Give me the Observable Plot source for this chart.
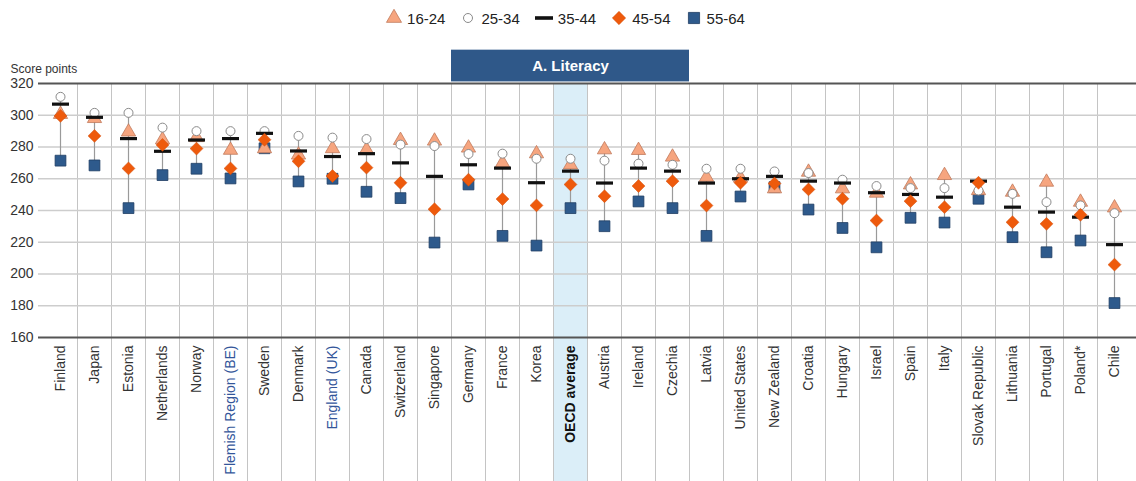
<!DOCTYPE html>
<html>
<head>
<meta charset="utf-8">
<script src="https://cdn.jsdelivr.net/npm/d3@7"></script>
<script src="https://cdn.jsdelivr.net/npm/@observablehq/plot@0.6"></script>
<style>
  body { margin: 0; background: #fff; font-family: "Liberation Sans", Arial, sans-serif; }
  #legend { height: 40px; display: flex; justify-content: center; align-items: flex-start; padding-right: 6px; box-sizing: border-box; }
  .item { display: flex; align-items: center; margin: 0 7px; height: 36px; font-size: 15px; color: #222; }
  .item svg { margin-right: 4px; }
</style>
</head>
<body>
<div id="legend"></div>
<div id="chart"></div>
<script>
const countries = ["Finland","Japan","Estonia","Netherlands","Norway","Flemish Region (BE)","Sweden","Denmark","England (UK)","Canada","Switzerland","Singapore","Germany","France","Korea","OECD average","Austria","Ireland","Czechia","Latvia","United States","New Zealand","Croatia","Hungary","Israel","Spain","Italy","Slovak Republic","Lithuania","Portugal","Poland*","Chile"];
const age1624 = [300.6,298,289.5,284.6,286,278,279,275,279,278.3,284.2,283.8,279.4,270,275.8,268.8,278.3,277.9,273.7,261,260.5,253.7,264.2,253.7,251,256.2,262.1,252.6,251.6,257.9,245.3,241.7];
const age2534 = [311.6,301.5,301.5,292.2,290,290,290,287,285.9,285,281.5,280.6,275.6,275.8,272.6,272.6,271.4,269.5,268.8,266.3,266.3,264.6,263.6,259.4,255.4,254.1,254.1,252.6,250.5,245.3,243.2,238.3];
const age3544 = [307,298.7,285.3,277.3,284.4,285.3,288.6,277.5,274,275.8,270,261.5,268.8,266.7,257.5,264.8,257.3,266.7,264.8,257.3,260,261.5,258.5,257.3,251.2,250.1,248.4,258.5,242.1,239,235.8,218.5];
const age4554 = [299.6,287,266.5,281.3,279,266.5,284.6,271,261.7,267,257.5,240.8,259.4,247.2,243.2,256.4,249,255.4,258.5,243.1,257.5,257,253.3,247.4,233.7,245.9,242.1,257.5,232.6,231.6,237.3,205.9];
const age5564 = [271.4,268.4,241.5,262.3,266.3,260.2,279.2,258.3,260,251.8,247.8,219.8,256.4,224,217.9,241.5,230.1,245.7,241.5,224,248.8,254.7,240.6,229,216.8,235.4,232.4,247.4,223.2,213.7,221.1,181.7];
const ageGroups = ["16-24","25-34","35-44","45-54","55-64"];
const yTicks = [160,180,200,220,240,260,280,300,320];
const panelTitle = "A. Literacy";
const panelFirst = "Germany", panelLast = "Czechia";
const highlighted = "OECD average";
const blueLabels = ["Flemish Region (BE)","England (UK)"];
const yAxisTitle = "Score points";

const seriesValues = [age1624, age2534, age3544, age4554, age5564];

const dashSymbol = { draw(ctx) { ctx.moveTo(-8.5,-1.6); ctx.lineTo(8.5,-1.6); ctx.lineTo(8.5,1.6); ctx.lineTo(-8.5,1.6); ctx.closePath(); } };
const styles = {
  "16-24": {symbol: "triangle", r: 5.3, fill: "#f6a57f", stroke: "#c07a5c", strokeWidth: 0.8},
  "25-34": {symbol: "circle", r: 4.5, fill: "#ffffff", stroke: "#8a8a8a", strokeWidth: 1},
  "35-44": {symbol: dashSymbol, r: 5, fill: "#111111", stroke: "none", strokeWidth: 0},
  "45-54": {symbol: "diamond2", r: 5.8, fill: "#ee5a0c", stroke: "#d24c08", strokeWidth: 0.5},
  "55-64": {symbol: "square", r: 6.1, fill: "#2e5a8c", stroke: "#1f3d63", strokeWidth: 0.8}
};

const rows = countries.map((c, i) => {
  const vals = seriesValues.map(s => s[i]);
  return {country: c, pos: i + 0.5, min: d3.min(vals), max: d3.max(vals)};
});
const long = ageGroups.map((g, k) => countries.map((c, i) => ({group: g, pos: i + 0.5, value: seriesValues[k][i]})));

const n = countries.length;
const hi = countries.indexOf(highlighted);
const p0 = countries.indexOf(panelFirst), p1 = countries.indexOf(panelLast) + 1;
const yLow = 62;     // below the label area
const yBanner = 341; // top of banner above the 320 line

const drawOrder = ["55-64","16-24","25-34","35-44","45-54"];

const chart = Plot.plot({
  width: 1136, height: 441,
  marginTop: 43, marginBottom: 144, marginLeft: 43, marginRight: 5,
  x: {domain: [0, n], axis: null},
  y: {domain: [160, 320]},
  style: {fontFamily: "'Liberation Sans', Arial, sans-serif", color: "#333", background: "#fff"},
  marks: [
    Plot.rect([hi], {x1: d => d, x2: d => d + 1, y1: 320, y2: yLow, fill: "#dbeef8"}),
    Plot.ruleX(d3.range(1, n), {y1: 320, y2: yLow, stroke: "#c4c4c4", strokeWidth: 1}),
    Plot.ruleY(yTicks.filter(t => t > 160 && t < 320), {stroke: "#cdcdcd", strokeWidth: 1.5, insetLeft: -5, insetRight: -5}),
    Plot.ruleY([160, 320], {stroke: "#555", strokeWidth: 1.8, insetLeft: -5, insetRight: -5}),
    Plot.rect([panelTitle], {x1: p0, x2: p1, y1: 321, y2: yBanner, fill: "#2f5889"}),
    Plot.text([panelTitle], {x: (p0 + p1) / 2, y: (321 + yBanner) / 2, text: d => d, fill: "white", fontWeight: "bold", fontSize: 15}),
    Plot.axisY({ticks: yTicks, tickSize: 0, tickPadding: 10, fontSize: 14, label: null}),
    Plot.text([yAxisTitle], {frameAnchor: "top-left", dx: -33, dy: -19, textAnchor: "start", text: d => d, fontSize: 12, fill: "#333"}),
    Plot.ruleX(rows, {x: "pos", y1: "min", y2: "max", stroke: "#9a9a9a", strokeWidth: 1.2}),
    ...drawOrder.map(g => {
      const s = styles[g];
      return Plot.dot(long[ageGroups.indexOf(g)], {x: "pos", y: "value", symbol: () => s.symbol, r: s.r, fill: s.fill, stroke: s.stroke, strokeWidth: s.strokeWidth});
    }),
    Plot.text(rows, {filter: d => d.country !== highlighted && !blueLabels.includes(d.country), x: "pos", y: 160, text: "country", rotate: -90, textAnchor: "end", dy: 8, fontSize: 14, fill: "#333"}),
    Plot.text(rows, {filter: d => blueLabels.includes(d.country), x: "pos", y: 160, text: "country", rotate: -90, textAnchor: "end", dy: 8, fontSize: 14, fill: "#33569a"}),
    Plot.text(rows, {filter: d => d.country === highlighted, x: "pos", y: 160, text: "country", rotate: -90, textAnchor: "end", dy: 8, fontSize: 14, fontWeight: "bold", fill: "#111"})
  ]
});
document.getElementById("chart").appendChild(chart);

// legend
const legend = document.getElementById("legend");
const symPaths = {
  "16-24": d3.symbol(d3.symbolTriangle, Math.PI * 5.6 * 5.6)(),
  "25-34": d3.symbol(d3.symbolCircle, Math.PI * 4.5 * 4.5)(),
  "35-44": "M-9,-1.8L9,-1.8L9,1.8L-9,1.8Z",
  "45-54": d3.symbol(d3.symbolDiamond2, Math.PI * 6 * 6)(),
  "55-64": d3.symbol(d3.symbolSquare, Math.PI * 6.3 * 6.3)()
};
ageGroups.forEach(g => {
  const s = styles[g];
  const item = document.createElement("div");
  item.className = "item";
  const w = g === "35-44" ? 20 : 18;
  item.innerHTML = `<svg width="${w}" height="18" viewBox="${-w/2} -9 ${w} 18"><path d="${symPaths[g]}" fill="${s.fill}" stroke="${s.stroke}" stroke-width="${s.strokeWidth}"/></svg><span>${g}</span>`;
  legend.appendChild(item);
});
</script>
</body>
</html>
